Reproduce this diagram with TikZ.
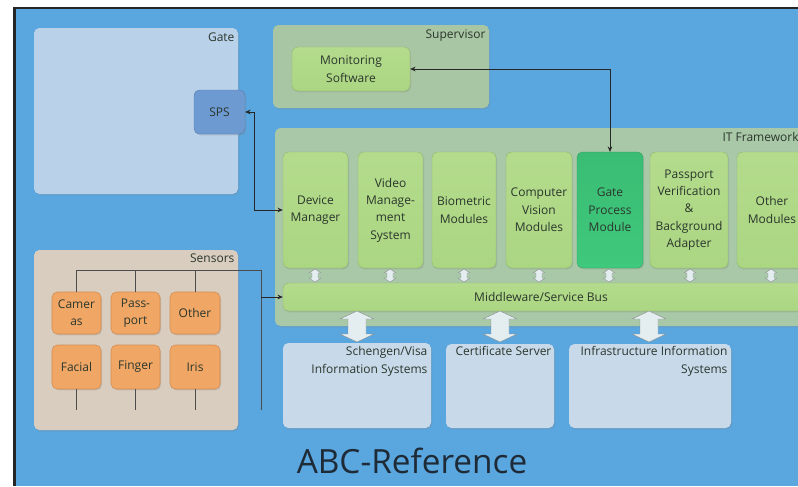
\documentclass[tikz,border=0pt]{standalone}
\usepackage{fontspec}
\setmainfont{Open Sans}
\usetikzlibrary{shadows,calc,arrows.meta}
\definecolor{bgblue}{HTML}{5AA6DE}
\definecolor{gatec}{HTML}{B9D2EA}
\definecolor{spsc}{HTML}{6E9AD2}
\definecolor{supc}{HTML}{A9C6A4}
\definecolor{itc}{HTML}{A8C8A8}
\definecolor{modc}{HTML}{ABD682}
\definecolor{modtop}{HTML}{B3DB8C}
\definecolor{gpc}{HTML}{3FC97C}
\definecolor{gptop}{HTML}{3ABC74}
\definecolor{senc}{HTML}{D9CDBF}
\definecolor{orc}{HTML}{F0A766}
\definecolor{ore}{HTML}{D4894E}
\definecolor{lowc}{HTML}{C8DAEA}
\definecolor{arrc}{HTML}{E4EEF0}
\definecolor{txtc}{HTML}{2B362C}
\definecolor{titc}{HTML}{1E2A36}
\newcommand\pbox[6]{\node[#1,minimum width={(#5-#3)*0.75pt},minimum height={(#6-#4)*0.75pt}] (#2) at ({(#3+#5)/2},{(#4+#6)/2})}
\newcommand\dblarr[6]{%
  \filldraw[arrstyle] (#1-#4,#2+#6) -- (#1,#2) -- (#1+#4,#2+#6) -- (#1+#5,#2+#6) -- (#1+#5,#3-#6) -- (#1+#4,#3-#6) -- (#1,#3) -- (#1-#4,#3-#6) -- (#1-#5,#3-#6) -- (#1-#5,#2+#6) -- cycle;}
\begin{document}
\begin{tikzpicture}[x=0.75pt,y=-0.75pt,
  base/.style={rounded corners=4pt, inner sep=0pt, align=center, text=txtc,
     font=\fontsize{9}{13}\selectfont},
  shad/.style={drop shadow={opacity=0.25,shadow xshift=0.8pt,shadow yshift=-1pt}},
  gatebox/.style={base, fill=gatec, shad},
  spsbox/.style={base, fill=spsc, draw=spsc!80!black, line width=0.3pt, shad},
  grpbox/.style={base, fill=supc, shad},
  itbox/.style={base, fill=itc, shad},
  modbox/.style={base, top color=modtop, bottom color=modc, draw=modc!85!black, line width=0.3pt, shad},
  gpbox/.style={base, top color=gptop, bottom color=gpc, draw=gpc!80!black, line width=0.3pt, shad},
  senbox/.style={base, fill=senc, shad},
  orbox/.style={base, fill=orc, draw=ore, line width=0.4pt, shad},
  lowbox/.style={base, fill=lowc, shad},
  lbl/.style={inner sep=1pt, text=txtc, font=\fontsize{9}{12}\selectfont},
  lowlbl/.style={inner sep=1pt, text=txtc, align=right, font=\fontsize{9}{13}\selectfont},
  conn/.style={line width=0.6pt, draw=black!85, >={Stealth[length=4pt,width=3.5pt]}},
  sline/.style={line width=0.6pt, draw=black!70},
  arrstyle/.style={fill=arrc, draw=black!45, line width=0.3pt}
]
\useasboundingbox (0,0) rectangle (798,486);
\clip (0,0) rectangle (798,486);
\fill[white] (0,0) rectangle (798,486);
\fill[black!85] (13,7) rectangle (798,486);
\fill[bgblue] (16,9) rectangle (798,486);

% Gate
\pbox{gatebox}{gate}{34}{28}{238}{194} {};
\node[lbl, anchor=north east] (gatelbl) at (236,31) {Gate};
\pbox{spsbox}{sps}{194}{90}{245}{134} {SPS};

% Supervisor
\pbox{grpbox}{sup}{273}{25}{489}{108} {};
\node[lbl, anchor=north east] (suplbl) at (487,28) {Supervisor};
\pbox{modbox}{mon}{292}{47}{410}{91} {Monitoring\\Software};

% IT Framework
\pbox{itbox}{itf}{275}{128}{830}{326} {};
\node[lbl, anchor=north west] (itlbl) at (721,131) {IT Framework};
\pbox{modbox}{dm}{283}{152}{348}{268} {Device\\Manager};
\pbox{modbox}{vms}{358}{152}{423}{268} {Video\\Manage-\\ment\\System};
\pbox{modbox}{bio}{432}{152}{496}{268} {Biometric\\Modules};
\pbox{modbox}{cv}{506}{152}{572}{268} {Computer\\Vision\\Modules};
\pbox{gpbox}{gp}{577}{152}{643}{268} {Gate\\Process\\Module};
\pbox{modbox}{pv}{650}{152}{728}{268} {Passport\\Verification\\\&\\Background\\Adapter};
\pbox{modbox}{oth}{737}{152}{820}{268} {};
\node[lbl, align=center, font=\fontsize{9}{13}\selectfont] (othlbl) at (772,210) {Other\\Modules};
\pbox{modbox}{bus}{283}{283}{830}{311} {};
\node[lbl] (buslbl) at (541,297) {Middleware/Service Bus};

% small arrows between modules and bus
\dblarr{315}{269}{282}{6}{3}{4}
\dblarr{390}{269}{282}{6}{3}{4}
\dblarr{464}{269}{282}{6}{3}{4}
\dblarr{539}{269}{282}{6}{3}{4}
\dblarr{609}{269}{282}{6}{3}{4}
\dblarr{690}{269}{282}{6}{3}{4}
\dblarr{771}{269}{282}{6}{3}{4}

% lower systems
\pbox{lowbox}{sch}{283}{343}{431}{428} {};
\node[lowlbl, anchor=north east] (schlbl) at (429,345) {Schengen/Visa\\Information Systems};
\pbox{lowbox}{cert}{446}{344}{554}{428} {};
\node[lowlbl, anchor=north east] (certlbl) at (553,345) {Certificate Server};
\pbox{lowbox}{inf}{569}{344}{731}{428} {};
\node[lowlbl, anchor=north east] (inflbl) at (729,345) {Infrastructure Information\\Systems};

% big arrows
\dblarr{357}{311}{342}{17}{9}{8}
\dblarr{500}{311}{342}{17}{9}{8}
\dblarr{649}{311}{342}{17}{9}{8}

% Sensors
\pbox{senbox}{sen}{34}{250}{238}{430} {};
\node[lbl, anchor=north east] (senlbl) at (236,252) {Sensors};
\pbox{orbox}{cam}{52}{292}{101}{334} {Camer\\as};
\pbox{orbox}{pas}{111}{292}{160}{334} {Pass-\\port};
\pbox{orbox}{osen}{170}{292}{220}{334} {Other};
\pbox{orbox}{fac}{52}{345}{101}{389} {Facial};
\pbox{orbox}{fin}{111}{345}{160}{389} {Finger};
\pbox{orbox}{iris}{170}{345}{220}{389} {Iris};

\coordinate (sj) at (261,270);
\coordinate (sb) at (261,410);
\draw[sline] (cam.north) |- (sj) -- (sb);
\draw[sline] (pas.north) -- (pas.north |- sj);
\draw[sline] (osen.north) -- (osen.north |- sj);
\draw[sline] (fac.south) -- ++(0,21);
\draw[sline] (fin.south) -- ++(0,21);
\draw[sline] (iris.south) -- ++(0,21);
\draw[conn,->] (sj |- bus.west) -- (bus.west);

% connectors
\draw[conn,<->] (mon.east) -| (gp.north);
\draw[conn,<->] (sps.east) -- ++(9,0) |- (dm.west);

% title
\node[text=titc, font=\fontsize{25}{29}\selectfont] (title) at (412,461) {ABC-Reference};
\end{tikzpicture}
\end{document}
